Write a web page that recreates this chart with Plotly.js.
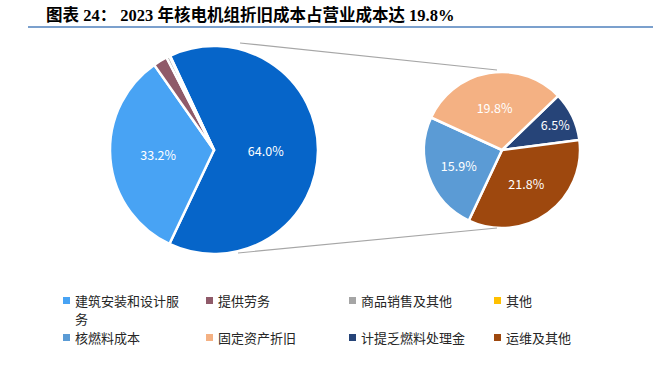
<!DOCTYPE html>
<html>
<head>
<meta charset="utf-8">
<script src="https://cdn.plot.ly/plotly-3.0.1.min.js"></script>
<style>html,body{margin:0;padding:0;background:#fff;}#chart{width:665px;height:365px;}</style>
</head>
<body>
<div id="chart"></div>
<script>
// Main pie (share of operating cost, %)
const mainLabels = ["电力销售", "建筑安装和设计服务", "提供劳务", "商品销售及其他", "其他"];
const mainValues = [64.0, 33.2, 2.2, 0.5, 0.1];
const mainColors = ["#0665C9", "#48A3F4", "#8F5A69", "#A5A5A5", "#FFC000"];

// Breakdown pie of the 64.0% slice (%)
const subLabels = ["计提乏燃料处理金", "运维及其他", "核燃料成本", "固定资产折旧"];
const subValues = [6.5, 21.8, 15.9, 19.8];
const subColors = ["#264478", "#9E480E", "#5B9BD5", "#F4B183"];

// Legend entries (in display order)
const legendLabels = ["建筑安装和设计服务", "提供劳务", "商品销售及其他", "其他",
                      "核燃料成本", "固定资产折旧", "计提乏燃料处理金", "运维及其他"];
const legendColors = ["#48A3F4", "#8F5A69", "#A5A5A5", "#FFC000",
                      "#5B9BD5", "#F4B183", "#264478", "#9E480E"];

const titleText = "图表 24： 2023 年核电机组折旧成本占营业成本达 19.8%";

const W = 665, H = 365;
const px = x => x / W;
const py = y => 1 - y / H;

const textFont = {family: "Noto Sans CJK SC, Noto Sans, sans-serif", size: 12.5, color: "#ffffff"};

const traces = [
  {
    type: "pie",
    labels: mainLabels,
    values: mainValues,
    sort: false,
    direction: "clockwise",
    rotation: -25,
    marker: {colors: mainColors, line: {color: "#ffffff", width: 2.5}},
    texttemplate: mainValues.map(v => v >= 10 ? "%{value:.1f}%" : ""),
    textposition: "inside",
    insidetextorientation: "horizontal",
    textfont: textFont,
    hoverinfo: "label+value",
    showlegend: false,
    domain: {x: [px(110), px(318)], y: [py(254), py(46)]}
  },
  {
    type: "pie",
    labels: subLabels,
    values: subValues,
    sort: false,
    direction: "clockwise",
    rotation: 46,
    marker: {colors: subColors, line: {color: "#ffffff", width: 2.5}},
    texttemplate: "%{value:.1f}%",
    textposition: "inside",
    insidetextorientation: "horizontal",
    textfont: textFont,
    hoverinfo: "label+value",
    showlegend: false,
    domain: {x: [px(424), px(580)], y: [py(228), py(72)]}
  }
];

const shapes = [
  {type: "line", xref: "paper", yref: "paper", x0: px(28), x1: px(653), y0: py(27), y1: py(27),
   line: {color: "#4F81BD", width: 1.5}},
  {type: "line", xref: "paper", yref: "paper", x0: px(240), x1: px(497), y0: py(43), y1: py(70),
   line: {color: "#A6A6A6", width: 1.2}},
  {type: "line", xref: "paper", yref: "paper", x0: px(238), x1: px(497), y0: py(253), y1: py(228),
   line: {color: "#A6A6A6", width: 1.2}}
];

const annotations = [];
const colX = [63, 206, 349, 494];
const rowY = [300, 337];
const lineGap = 18.5;
const fs = 13;
const legendFont = {family: "Noto Sans CJK SC, Noto Sans, sans-serif", size: fs, color: "#262626"};
legendLabels.forEach((lab, i) => {
  const c = i % 4, r = Math.floor(i / 4);
  const x = colX[c], y = rowY[r];
  shapes.push({type: "rect", xref: "paper", yref: "paper",
    x0: px(x), x1: px(x + 7), y0: py(y + 4), y1: py(y - 3),
    fillcolor: legendColors[i], line: {width: 0}});
  // wrap long labels onto a second line, like the original legend
  const parts = lab.length > 8 ? [lab.slice(0, 8), lab.slice(8)] : [lab];
  parts.forEach((p, k) => {
    annotations.push({xref: "paper", yref: "paper", x: px(x + 11), y: py(y + k * lineGap),
      xanchor: "left", yanchor: "middle", align: "left", showarrow: false, borderpad: 0,
      text: p, font: legendFont});
  });
});

const layout = {
  width: W, height: H,
  margin: {l: 0, r: 0, t: 0, b: 0},
  paper_bgcolor: "#ffffff",
  title: {
    text: titleText,
    xref: "paper", yref: "paper",
    x: px(46), xanchor: "left",
    y: py(15), yanchor: "middle",
    font: {family: "Liberation Serif, Noto Sans CJK SC, serif", size: 16.5, color: "#000000", weight: "bold"}
  },
  shapes: shapes,
  annotations: annotations,
  showlegend: false
};

Plotly.newPlot("chart", traces, layout, {displayModeBar: false, staticPlot: true});
</script>
</body>
</html>
